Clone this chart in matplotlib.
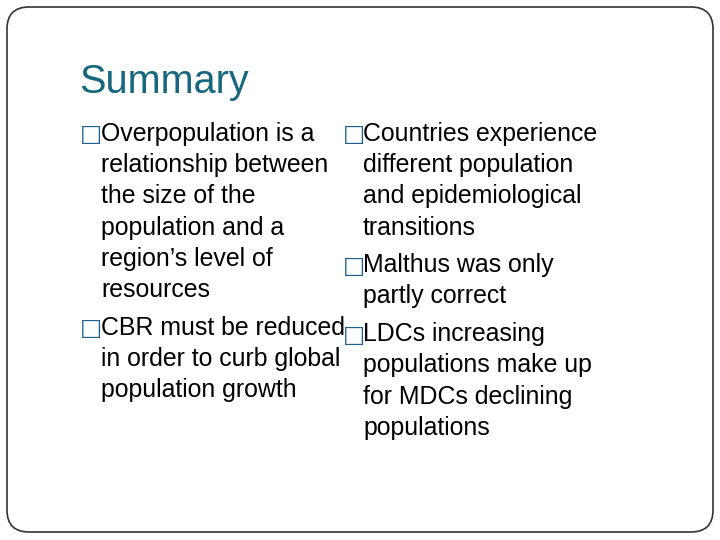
import matplotlib
matplotlib.use("Agg")
import matplotlib.pyplot as plt
from matplotlib.patches import FancyBboxPatch

title = "Summary"
left_items = [
    ["Overpopulation is a", "relationship between", "the size of the", "population and a", "region’s level of", "resources"],
    ["CBR must be reduced", "in order to curb global", "population growth"],
]
right_items = [
    ["Countries experience", "different population", "and epidemiological", "transitions"],
    ["Malthus was only", "partly correct"],
    ["LDCs increasing", "populations make up", "for MDCs declining", "populations"],
]

W, H = 720, 540
fig = plt.figure(figsize=(7.2, 5.4), dpi=100)
ax = fig.add_axes([0, 0, 1, 1])
ax.set_xlim(0, W)
ax.set_ylim(H, 0)
ax.axis("off")

ax.add_patch(FancyBboxPatch((7, 7), 706, 525, boxstyle="round,pad=0,rounding_size=22",
                            fill=False, edgecolor="#333333", linewidth=1.2))

ax.text(79, 82, title, fontsize=28.5, color="#17677E", family="Liberation Sans",
        va="center", ha="left")

FS = 17.9
teal = "#1F5F8F"
LINE = 31.2
GAP = 6.5

def column(items, xb, xt, y0):
    y = y0
    for item in items:
        ax.text(xb, y + 1, "□", fontsize=FS - 1, color=teal, family="DejaVu Sans",
                va="center", ha="left")
        for line in item:
            ax.text(xt, y, line, fontsize=FS, color="black", family="Liberation Sans",
                    va="center", ha="left")
            y += LINE
        y += GAP

column(left_items, 80, 101, 134)
column(right_items, 343, 363, 134)

fig.savefig("out.png", dpi=100)
